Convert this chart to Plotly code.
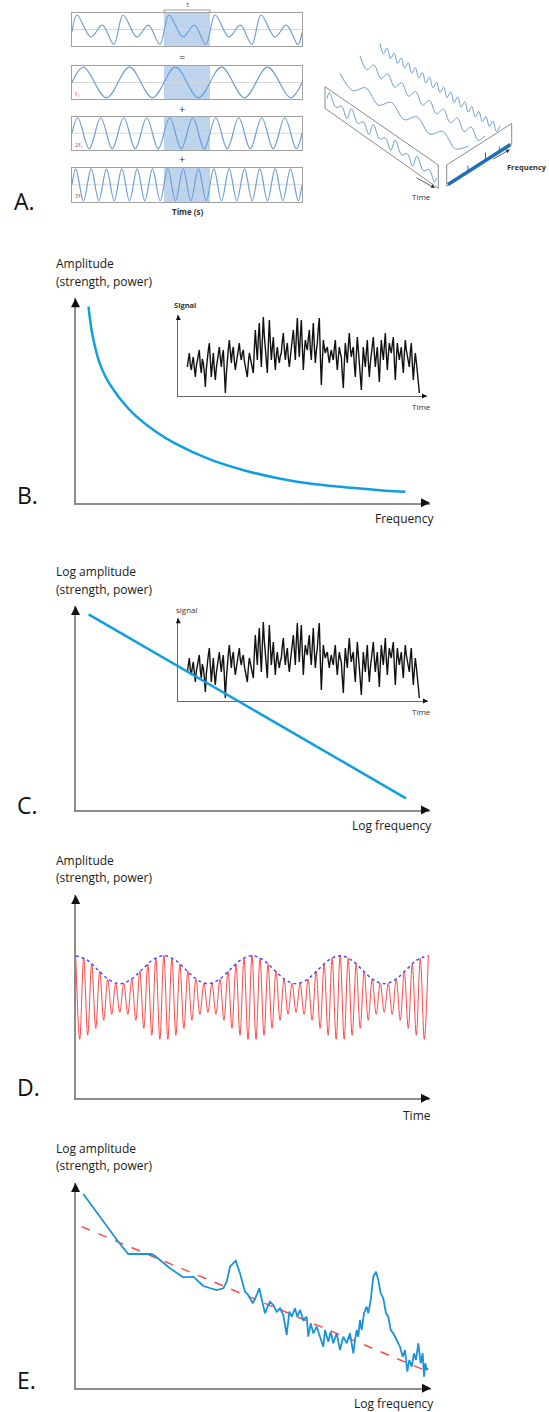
import plotly.graph_objects as go

W, H = 549, 1412
FONT = "Open Sans"

# ---------------- DATA ----------------
# Panel A (left): extremes of each wave, time in units of the fundamental period T
a_window = [2, 3]
a_sum_t = [0, 0.11, 0.41, 0.66, 0.91, 1.11, 1.41, 1.66, 1.91, 2.11, 2.41, 2.66, 2.91,
           3.11, 3.41, 3.66, 3.91, 4.11, 4.41, 4.66, 4.91, 5.0]
a_sum_v = [-0.15, 0.95, -0.49, 0.28, -0.97, 0.95, -0.49, 0.28, -0.97, 0.95, -0.49, 0.28, -0.97,
           0.95, -0.49, 0.28, -0.97, 0.95, -0.49, 0.28, -0.97, -0.2]
a_f1_t = [0, 0.25, 0.75, 1.25, 1.75, 2.25, 2.75, 3.25, 3.75, 4.25, 4.75, 5.0]
a_f1_v = [0, 1, -1, 1, -1, 1, -1, 1, -1, 1, -1, 0]
a_f2_t = [0, 0.125, 0.375, 0.625, 0.875, 1.125, 1.375, 1.625, 1.875, 2.125, 2.375, 2.625,
          2.875, 3.125, 3.375, 3.625, 3.875, 4.125, 4.375, 4.625, 4.875, 5.0]
a_f2_v = [0, 1, -1, 1, -1, 1, -1, 1, -1, 1, -1, 1, -1, 1, -1, 1, -1, 1, -1, 1, -1, 0]
a_f3_t = [0, 0.083, 0.25, 0.417, 0.583, 0.75, 0.917, 1.083, 1.25, 1.417, 1.583, 1.75, 1.917,
          2.083, 2.25, 2.417, 2.583, 2.75, 2.917, 3.083, 3.25, 3.417, 3.583, 3.75, 3.917,
          4.083, 4.25, 4.417, 4.583, 4.75, 4.917, 5.0]
a_f3_v = [0, 1, -1, 1, -1, 1, -1, 1, -1, 1, -1, 1, -1, 1, -1, 1, -1, 1, -1, 1, -1,
          1, -1, 1, -1, 1, -1, 1, -1, 1, -1, 0]
a_labels = ["f<sub>1</sub>", "2f<sub>1</sub>", "3f<sub>1</sub>"]

# Panel A (right): schematic waves (alternating extremes)
ill_wave_low = [1, -1, 1, -1, 1, -1, 1, -1, 1, -1, 1]
ill_wave_mid = [1, -1, 1, -1, 1, -1, 1, -1, 1, -1, 1, -1, 1, -1, 1, -1, 1, -1, 1]
ill_wave_high = [1, -1, 1, -1, 1, -1, 1, -1, 1, -1, 1, -1, 1, -1, 1, -1, 1, -1, 1, -1,
                 1, -1, 1, -1, 1, -1, 1, -1, 1, -1, 1, -1, 1, -1, 1]

# Panel B: 1/f spectrum (frequency, amplitude)
b_freq = [13, 16, 20, 24, 30, 38, 47, 60, 79, 100, 135, 170, 205, 240, 275, 310, 330]
b_amp = [196, 173, 154, 140, 126, 113, 101, 87, 72, 59, 43, 32, 24, 18.5, 15, 12, 11]

# Inset signal (B and C), one sample per pixel
signal = [29, 38, 43, 31, 26, 34, 39, 28, 19, 30, 36, 41, 46, 30, 23, 37, 33, 24,
          9, 27, 39, 46, 53, 34, 19, 31, 43, 27, 16, 28, 36, 42, 49, 38, 29, 40,
          46, 25, 3, 22, 39, 47, 56, 40, 33, 44, 49, 35, 26, 33, 39, 47, 53, 41,
          36, 43, 46, 35, 29, 24, 19, 33, 43, 38, 33, 29, 23, 47, 66, 50, 36, 58,
          73, 49, 29, 55, 79, 60, 46, 32, 23, 51, 76, 55, 36, 48, 59, 40, 26, 41,
          49, 39, 33, 40, 43, 55, 63, 47, 36, 46, 53, 38, 29, 39, 46, 57, 66, 48,
          36, 60, 78, 55, 39, 60, 76, 49, 26, 44, 56, 50, 46, 58, 66, 47, 36, 56,
          73, 50, 33, 45, 53, 68, 78, 40, 11, 35, 56, 48, 43, 47, 49, 40, 33, 41,
          46, 40, 36, 48, 56, 38, 26, 39, 49, 43, 39, 22, 8, 33, 53, 42, 33, 50,
          63, 48, 39, 45, 49, 31, 19, 41, 59, 46, 36, 20, 6, 30, 49, 38, 29, 44,
          56, 34, 19, 33, 43, 52, 59, 42, 29, 40, 49, 30, 14, 37, 56, 45, 36, 50,
          63, 42, 26, 41, 53, 47, 43, 52, 59, 35, 16, 36, 53, 44, 36, 43, 49, 34,
          23, 42, 56, 46, 39, 33, 29, 44, 53, 32, 16, 31, 43, 34, 26, 14, 3]
signal_t = list(range(len(signal)))

# Panel C: straight line in log-log
c_logf = [13.1, 330.5]
c_logamp = [195.7, 11.7]

# Panel D: carrier extremes (index = half-cycle) and envelope
d_carrier = [143, 59, 140, 63, 134, 70, 127, 78, 119, 84, 115, 86, 115, 84, 119, 78, 127, 70, 134, 63, 140, 59,
             143, 59, 140, 63, 134, 70, 127, 78, 119, 84, 115, 86, 115, 84, 119, 78, 127, 70, 134, 63, 140, 59,
             143, 59, 140, 63, 134, 70, 127, 78, 119, 84, 115, 86, 115, 84, 119, 78, 127, 70, 134, 63, 140, 59,
             143, 59, 140, 63, 134, 70, 127, 78, 119, 84, 115, 86, 115, 84, 119, 78, 127, 70, 134, 63, 140, 59,
             143]
d_carrier_t = list(range(len(d_carrier)))
d_env_t = [0, 2.75, 5.5, 8.25, 11, 13.75, 16.5, 19.25, 22, 24.75, 27.5, 30.25, 33, 35.75, 38.5, 41.25,
           44, 46.75, 49.5, 52.25, 55, 57.75, 60.5, 63.25, 66, 68.75, 71.5, 74.25, 77, 79.75, 82.5,
           85.25, 88]
d_env = [142.6, 138.5, 128.6, 118.7, 114.6, 118.7, 128.6, 138.5,
         142.6, 138.5, 128.6, 118.7, 114.6, 118.7, 128.6, 138.5,
         142.6, 138.5, 128.6, 118.7, 114.6, 118.7, 128.6, 138.5,
         142.6, 138.5, 128.6, 118.7, 114.6, 118.7, 128.6, 138.5,
         142.6]

# Panel E: measured spectrum and aperiodic fit
e_logf = [7.8, 42.8, 52.8, 76.2, 79.5, 94.5, 107.8, 117.8, 127.8, 141.2, 147.8, 151.2, 154.5, 160.2,
          164.5, 169.5, 172.8, 177.2, 181.2, 183.8, 186.2, 189.5, 192.8, 194.5, 197.8, 201.2, 204.5,
          207.8, 211.2, 213.8, 216.2, 219.5, 221.8, 224.5, 227.8, 231.2, 232.8, 235.2, 237.8, 241.2,
          244.5, 247.8, 249.5, 252.8, 255.2, 257.8, 261.2, 264.5, 267.8, 271.2, 274.5, 277.8, 279.5,
          281.2, 282.8, 284.5, 286.2, 288.5, 291.2, 292.8, 295.2, 297.8, 300.5, 302.8, 305.2, 307.8,
          310.5, 312.8, 315.2, 317.8, 321.2, 324.5, 327.2, 329.5, 331.8, 333.8, 336.2, 338.5, 340.5,
          342.8, 345.2, 347.2, 348.5, 349.8, 351.2, 352.8]
e_logamp = [194.3, 146.6, 134.3, 134.3, 132.3, 120, 111, 111.6, 102.3, 98.3, 100, 106.6, 121.6, 127.6,
            115, 96.6, 93.3, 85, 93.3, 100, 89, 75, 83.3, 86.6, 83.3, 76.6, 80,
            73.3, 53.3, 76.6, 71.6, 80, 71.6, 78.3, 68.3, 71.6, 51.6, 65, 55, 61.6,
            51.6, 41.6, 58.3, 46.6, 56.6, 45, 55, 38.3, 51.6, 45, 55, 35, 48.3,
            58.3, 51.6, 68.3, 58.3, 75, 81.6, 75, 88.3, 111.6, 116.6, 108.3, 95, 90,
            75, 71.6, 58.3, 55, 48.3, 41.6, 31.6, 38.3, 16.6, 28.3, 21.6, 35, 28.3,
            45, 25, 35, 11.6, 25, 18.3, 20]
e_fit_logf = [6.2, 352.8]
e_fit_logamp = [161.6, 16.6]

# ---------------- FIGURE ----------------
fig = go.Figure()
layout = {}
annotations = []
shapes = []


def ids(n):
    return ("x" if n == 1 else f"x{n}"), ("y" if n == 1 else f"y{n}")


def add_axes(n, px_x, px_y, xrange, yrange, lc="#8c8c8c", lw=2, mirror=False, show=True):
    xid, yid = ids(n)
    common = dict(showgrid=False, zeroline=False, showticklabels=False, ticks="",
                  showline=show, linecolor=lc, linewidth=lw, mirror=mirror, fixedrange=True)
    layout["xaxis" if n == 1 else f"xaxis{n}"] = dict(
        domain=[px_x[0] / W, px_x[1] / W], range=xrange, anchor=yid, **common)
    layout["yaxis" if n == 1 else f"yaxis{n}"] = dict(
        domain=[1 - px_y[1] / H, 1 - px_y[0] / H], range=yrange, anchor=xid, **common)
    return xid, yid


def heads(xid, yid, size=1.2, width=1.5, tail=6):
    annotations.append(dict(x=1, y=0, xref=f"{xid} domain", yref=f"{yid} domain", text="",
                            showarrow=True, ax=-tail, ay=0, arrowhead=2, arrowsize=size,
                            arrowwidth=width, arrowcolor="#111"))
    annotations.append(dict(x=0, y=1, xref=f"{xid} domain", yref=f"{yid} domain", text="",
                            showarrow=True, ax=0, ay=tail, arrowhead=2, arrowsize=size,
                            arrowwidth=width, arrowcolor="#111"))


def text(t, x, y, size=12, xanchor="left", color="#1a1a1a"):
    annotations.append(dict(text=t, x=x / W, y=1 - y / H, xref="paper", yref="paper",
                            xanchor=xanchor, yanchor="middle", showarrow=False,
                            font=dict(family=FONT, size=size, color=color)))


def line(xid, yid, x, y, color, width, shape="linear", dash="solid"):
    fig.add_trace(go.Scatter(x=x, y=y, xaxis=xid, yaxis=yid, mode="lines",
                             line=dict(color=color, width=width, shape=shape, dash=dash),
                             hoverinfo="skip", showlegend=False))


# ---- Panel A left: four boxes ----
WAVE = "#6a9fd6"
boxes = [(13, 46, a_sum_t, a_sum_v), (66, 99, a_f1_t, a_f1_v),
         (116.5, 150, a_f2_t, a_f2_v), (167.5, 202, a_f3_t, a_f3_v)]
for i, (y0, y1, tt, vv) in enumerate(boxes):
    xid, yid = add_axes(i + 1, (72, 302), (y0, y1), [0, 5], [-1.08, 1.08],
                        lc="#a0a0a0", lw=1, mirror=True)
    shapes.append(dict(type="rect", xref=xid, yref=yid, x0=a_window[0], x1=a_window[1],
                       y0=-1.08, y1=1.08, fillcolor="rgba(110,160,215,0.45)",
                       line=dict(width=0), layer="below"))
    shapes.append(dict(type="line", xref=xid, yref=yid, x0=0, x1=5, y0=0, y1=0,
                       line=dict(color="#d8d8d8", width=1), layer="below"))
    line(xid, yid, tt, vv, WAVE, 1.2, shape="spline")

for lab, yy in zip(a_labels, [94, 145, 196]):
    text(lab, 73, yy, size=6, color="#e8322f")
text("=", 182, 57, size=11, xanchor="center", color="#333")
text("+", 182, 108, size=11, xanchor="center", color="#333")
text("+", 182, 159, size=11, xanchor="center", color="#333")
text("<b>Time (s)</b>", 187, 211, size=8, xanchor="center", color="#333")
text("τ", 188, 5, size=7, xanchor="center", color="#555")
shapes.append(dict(type="path", xref="x domain", yref="y domain",
                   path=f"M {a_window[0]/5},1.03 L {a_window[0]/5},1.09 L {a_window[1]/5},1.09 L {a_window[1]/5},1.03",
                   line=dict(color="#999", width=1)))
text("A.", 12, 201, size=23, color="#111")

# ---- Panel A right: schematic ----
ix, iy = add_axes(5, (300, 549), (30, 210), [300, 549], [210, 30], show=False)


def along(values, start, end, amp):
    n = len(values)
    xs = [start[0] + (end[0] - start[0]) * k / (n - 1) for k in range(n)]
    ys = [start[1] + (end[1] - start[1]) * k / (n - 1) - amp * v for k, v in enumerate(values)]
    return xs, ys


for vals, s, e, amp in [(ill_wave_low, (340, 78.3), (468.3, 151), 5),
                        (ill_wave_mid, (360, 60.7), (485, 140.3), 4.5),
                        (ill_wave_high, (380, 47.3), (500, 130), 4)]:
    xs, ys = along(vals, s, e, amp)
    line(ix, iy, xs, ys, WAVE, 1, shape="spline")

fig.add_trace(go.Scatter(x=[325, 438.3, 438.3, 325, 325], y=[86.7, 165, 188.3, 108.3, 86.7],
                         xaxis=ix, yaxis=iy, mode="lines", fill="toself", fillcolor="white",
                         line=dict(color="#8a8a8a", width=1), hoverinfo="skip", showlegend=False))
pxs = [327 + (436.5 - 327) * t / 5 for t in a_sum_t]
pys = [97.5 + (176.8 - 97.5) * t / 5 - 7 * v for t, v in zip(a_sum_t, a_sum_v)]
line(ix, iy, pxs, pys, WAVE, 1, shape="spline")
fig.add_trace(go.Scatter(x=[446.7, 511.7, 511.7, 446.7, 446.7], y=[165, 123.5, 144.5, 186, 165],
                         xaxis=ix, yaxis=iy, mode="lines", fill="toself", fillcolor="white",
                         line=dict(color="#8a8a8a", width=1), hoverinfo="skip", showlegend=False))
line(ix, iy, [448, 510.5], [184.5, 144.5], "#1f6eb8", 3.5)
for f, h in [(0.32, 6), (0.6, 8), (0.82, 5)]:
    bx = 448 + (510.5 - 448) * f
    by = 184.5 + (144.5 - 184.5) * f
    line(ix, iy, [bx, bx], [by, by - h], "#1f6eb8", 1)
annotations.append(dict(x=435, y=188, ax=415, ay=177, xref=ix, yref=iy, axref=ix, ayref=iy,
                        text="", showarrow=True, arrowhead=2, arrowsize=1, arrowwidth=0.8,
                        arrowcolor="#333"))
annotations.append(dict(x=510, y=149.5, ax=491.7, ay=160, xref=ix, yref=iy, axref=ix, ayref=iy,
                        text="", showarrow=True, arrowhead=2, arrowsize=1, arrowwidth=0.8,
                        arrowcolor="#333"))
text("Time", 421.7, 197, size=8, xanchor="center", color="#333")
text("<b>Frequency</b>", 527, 166.7, size=7.5, xanchor="center", color="#333")

# ---- Panel B ----
bx_i, by_i = add_axes(6, (178.3, 427), (315, 396), [-9.03, 239.67], [0, 81], lc="#666", lw=1.2)
heads(bx_i, by_i, size=1, width=1, tail=4)
line(bx_i, by_i, signal_t, signal, "#111111", 1.4)
text("<b>Signal</b>", 184.5, 305, size=7.5, xanchor="center", color="#333")
text("Time", 421, 407, size=8, xanchor="center", color="#333")

bxm, bym = add_axes(7, (75.5, 430), (298.3, 502.7), [0, 354.5], [0, 204.4])
heads(bxm, bym)
line(bxm, bym, b_freq, b_amp, "#0f9fe0", 2.5, shape="spline")
text("Amplitude", 54, 263.3)
text("(strength, power)", 54, 281.7)
text("Frequency", 436, 518.3, xanchor="right")
text("B.", 15, 495, size=23, color="#111")

# ---- Panel C ----
cx_i, cy_i = add_axes(8, (178.3, 428), (618.3, 701), [-9.03, 240.67], [0, 82.7], lc="#666", lw=1.2)
heads(cx_i, cy_i, size=1, width=1, tail=4)
line(cx_i, cy_i, signal_t, signal, "#111111", 1.4)
text("signal", 187, 609, size=8, xanchor="center", color="#333")
text("Time", 421, 711, size=8, xanchor="center", color="#333")

cxm, cym = add_axes(9, (75.5, 430), (606, 810), [0, 354.5], [0, 204])
heads(cxm, cym)
line(cxm, cym, c_logf, c_logamp, "#0f9fe0", 2.5)
text("Log amplitude", 54, 571.7)
text("(strength, power)", 54, 589.3)
text("Log frequency", 433.5, 826, xanchor="right")
text("C.", 15, 805, size=23, color="#111")

# ---- Panel D ----
dxm, dym = add_axes(10, (75.7, 430), (895, 1098.3), [0, 88.42], [0, 203.3])
heads(dxm, dym)
line(dxm, dym, d_carrier_t, d_carrier, "#ff4848", 1, shape="spline")
line(dxm, dym, d_env_t, d_env, "#4a4aff", 1.5, shape="spline", dash="dot")
text("Amplitude", 54, 860.7)
text("(strength, power)", 54, 877.3)
text("Time", 433, 1115, xanchor="right")
text("D.", 15, 1086.7, size=23, color="#111")

# ---- Panel E ----
exm, eym = add_axes(11, (75.5, 431), (1183, 1388.3), [0, 355.5], [0, 205.3])
heads(exm, eym)
line(exm, eym, e_fit_logf, e_fit_logamp, "#ff4a4a", 1.5, dash="dash")
line(exm, eym, e_logf, e_logamp, "#1a93d8", 1.8)
text("Log amplitude", 54, 1148.3)
text("(strength, power)", 54, 1165)
text("Log frequency", 436, 1403, xanchor="right")
text("E.", 15, 1380, size=23, color="#111")

fig.update_layout(width=W, height=H, margin=dict(l=0, r=0, t=0, b=0),
                  paper_bgcolor="white", plot_bgcolor="rgba(0,0,0,0)",
                  showlegend=False, font=dict(family=FONT, size=12, color="#222"),
                  annotations=annotations, shapes=shapes, **layout)

fig.write_html("out.html", config={"displayModeBar": False})
